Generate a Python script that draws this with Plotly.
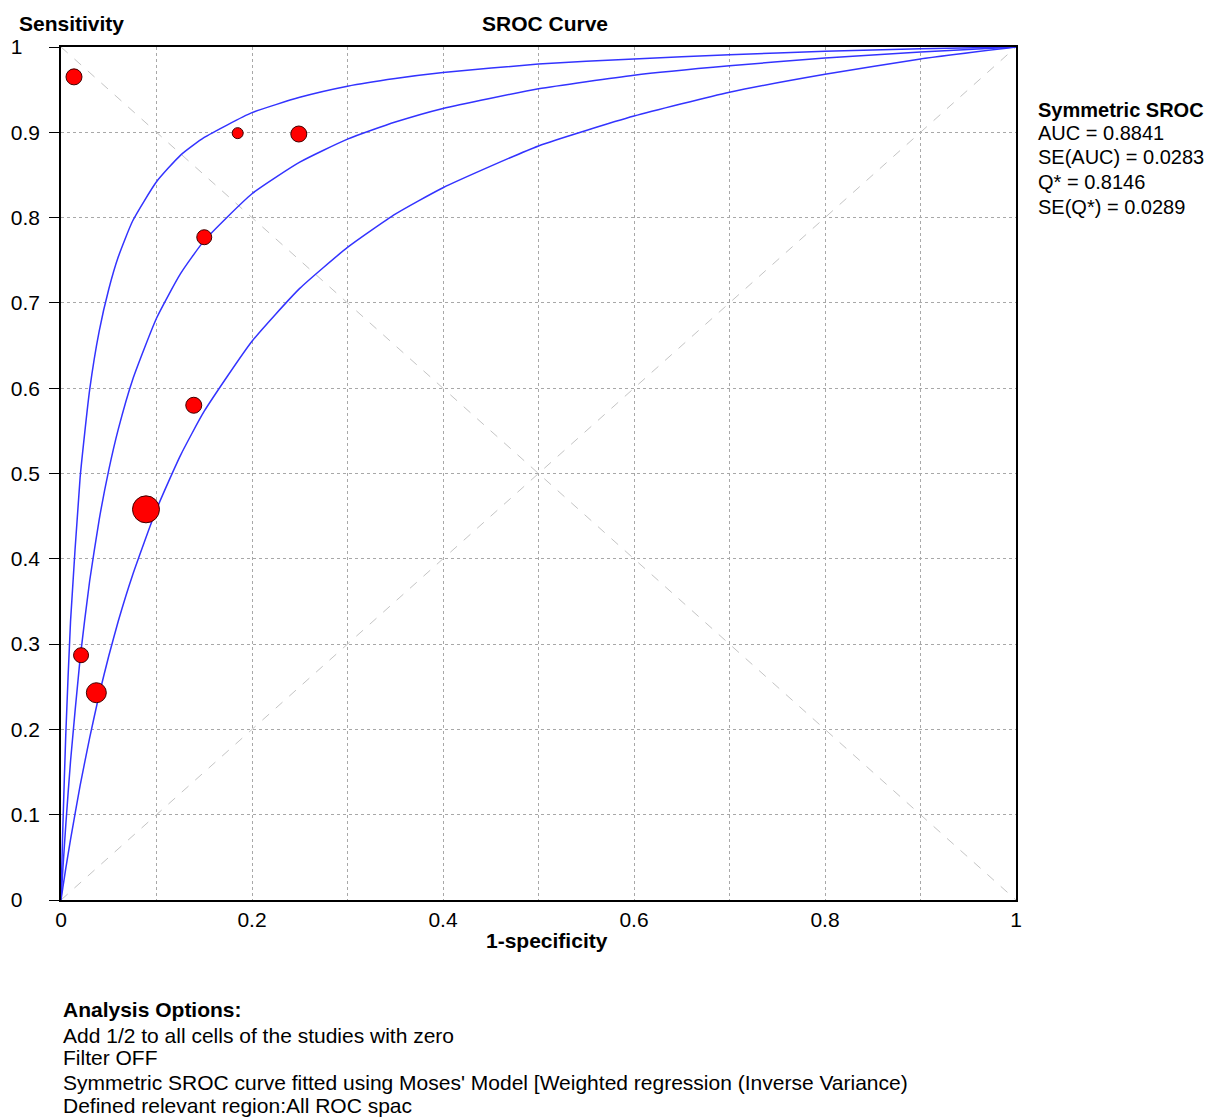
import plotly.graph_objects as go

# Study points (1-specificity, sensitivity) and marker size (study weight)
fpr = [0.0136, 0.185, 0.249, 0.150, 0.139, 0.089, 0.021, 0.037]
sens = [0.965, 0.899, 0.898, 0.777, 0.580, 0.458, 0.287, 0.243]
weight_px = [16, 11, 16, 15, 16, 27, 15, 20]

# SROC curves
curve_x = [0, 0.001, 0.002, 0.005, 0.01, 0.02, 0.03, 0.04, 0.05, 0.06, 0.075, 0.1, 0.125, 0.15, 0.2,
           0.25, 0.3, 0.35, 0.4, 0.5, 0.6, 0.7, 0.8, 0.9, 1.0]
upper_y = [0, 0.046, 0.088, 0.194, 0.327, 0.495, 0.598, 0.667, 0.716, 0.754, 0.796, 0.842, 0.873, 0.894, 0.923,
           0.941, 0.954, 0.963, 0.970, 0.980, 0.986, 0.991, 0.995, 0.998, 1.0]
middle_y = [0, 0.019, 0.037, 0.088, 0.163, 0.283, 0.374, 0.446, 0.504, 0.552, 0.610, 0.682, 0.734, 0.773, 0.828,
            0.865, 0.892, 0.912, 0.928, 0.951, 0.967, 0.978, 0.987, 0.994, 1.0]
lower_y = [0, 0.0075, 0.015, 0.037, 0.071, 0.134, 0.190, 0.241, 0.286, 0.327, 0.381, 0.458, 0.521, 0.573, 0.655,
           0.717, 0.765, 0.804, 0.835, 0.884, 0.919, 0.947, 0.968, 0.986, 1.0]

x_ticks = [0, 0.1, 0.2, 0.3, 0.4, 0.5, 0.6, 0.7, 0.8, 0.9, 1.0]
x_ticktext = ["0", "", "0.2", "", "0.4", "", "0.6", "", "0.8", "", "1"]
y_ticks = [0, 0.1, 0.2, 0.3, 0.4, 0.5, 0.6, 0.7, 0.8, 0.9, 1.0]
y_ticktext = ["0\u2007\u2008", "0.1", "0.2", "0.3", "0.4", "0.5", "0.6", "0.7", "0.8", "0.9", "1\u2007\u2008"]

stats_lines = ["<b>Symmetric SROC</b>", "AUC = 0.8841", "SE(AUC) = 0.0283", "Q* = 0.8146", "SE(Q*) = 0.0289"]
options_lines = ["<b>Analysis Options:</b>", "Add 1/2 to all cells of the studies with zero", "Filter OFF",
                 "Symmetric SROC curve fitted using Moses' Model [Weighted regression (Inverse Variance)",
                 "Defined relevant region:All ROC spac"]

FONT = "Arial, Liberation Sans, sans-serif"
fig = go.Figure()

# diagonals
fig.add_trace(go.Scatter(x=[0, 1], y=[0, 1], mode="lines",
                         line=dict(color="#c4c4c4", width=1, dash="dash"), hoverinfo="skip"))
fig.add_trace(go.Scatter(x=[0, 1], y=[1, 0], mode="lines",
                         line=dict(color="#c4c4c4", width=1, dash="dash"), hoverinfo="skip"))

for cy in (upper_y, middle_y, lower_y):
    fig.add_trace(go.Scatter(x=curve_x, y=cy, mode="lines",
                             line=dict(color="#3333ff", width=1.5, shape="spline", smoothing=0.5)))

fig.add_trace(go.Scatter(x=fpr, y=sens, mode="markers",
                         marker=dict(size=weight_px, color="#ff0000", opacity=1,
                                     line=dict(color="#400000", width=1))))

fig.update_layout(
    width=1205, height=1109,
    margin=dict(l=53, r=197, t=39, b=217, autoexpand=False),
    plot_bgcolor="white", paper_bgcolor="white",
    showlegend=False,
    font=dict(family=FONT, size=21, color="black"),
)
fig.update_xaxes(range=[0, 1], tickvals=x_ticks, ticktext=x_ticktext, automargin=False,
                 showgrid=True, gridcolor="#a8a8a8", griddash="dot", gridwidth=1,
                 showline=True, linecolor="black", linewidth=1.5, mirror=True,
                 ticks="", zeroline=False, tickfont=dict(size=21))
fig.update_yaxes(range=[0, 1], tickvals=y_ticks, ticktext=y_ticktext, automargin=False,
                 showgrid=True, gridcolor="#a8a8a8", griddash="dot", gridwidth=1,
                 showline=True, linecolor="black", linewidth=1.5, mirror=True,
                 ticks="outside", ticklen=10, tickcolor="black", zeroline=False,
                 tickfont=dict(size=21), ticklabelstandoff=5)

fig.add_annotation(text="<b>SROC Curve</b>", xref="paper", yref="paper", x=0.5068, y=1.0281,
                   showarrow=False, font=dict(size=21), xanchor="center", yanchor="middle")
fig.add_annotation(text="<b>Sensitivity</b>", xref="paper", yref="paper", x=-0.046, y=1.0281,
                   showarrow=False, font=dict(size=21), xanchor="left", yanchor="middle")
fig.add_annotation(text="<b>1-specificity</b>", xref="paper", yref="paper", x=0.509, y=-0.0469,
                   showarrow=False, font=dict(size=21), xanchor="center", yanchor="middle")

stats_y = [0.9261, 0.8992, 0.8711, 0.8417, 0.8124]
for txt, yy in zip(stats_lines, stats_y):
    fig.add_annotation(text=txt, xref="paper", yref="paper", x=1.0209, y=yy,
                       showarrow=False, align="left", xanchor="left", yanchor="middle",
                       font=dict(size=20))

options_y = [-0.1278, -0.1583, -0.1841, -0.2134, -0.2415]
for txt, yy in zip(options_lines, options_y):
    fig.add_annotation(text=txt, xref="paper", yref="paper", x=0, y=yy,
                       showarrow=False, align="left", xanchor="left", yanchor="middle",
                       font=dict(size=21))

fig.write_html("out.html")
